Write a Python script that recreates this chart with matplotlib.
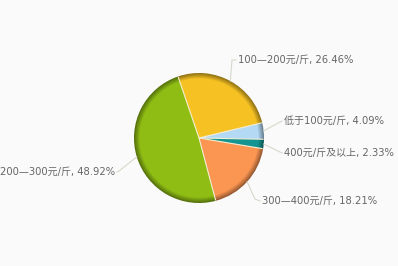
import matplotlib
matplotlib.use('Agg')
import matplotlib.pyplot as plt
import numpy as np
from matplotlib.colors import to_rgb

plt.rcParams['font.family'] = ['DejaVu Sans', 'Noto Sans CJK SC']

# slices in clockwise order, starting just above 3 o'clock
labels = ['低于100元/斤', '400元/斤及以上', '300—400元/斤', '200—300元/斤', '100—200元/斤']
shares = [4.09, 2.33, 18.21, 48.92, 26.46]
colors = ['#b3d9f5', '#159591', '#fb9552', '#8fbd14', '#f6c223']

W, H = 398, 266
cx, cy, R = 199, H - 138, 65
start = 13.6

# label layout (pixel coords, y down): elbow point, text anchor, alignment
layout = [((280, 122), (284, 121), 'left'),
          ((280, 152), (284, 153), 'left'),
          ((255, 199), (262, 201), 'left'),
          ((119, 171), (115, 172), 'right'),
          ((232, 60), (238, 60), 'left')]

fig = plt.figure(figsize=(W / 100, H / 100), dpi=100, facecolor='#fafafa')
ax = fig.add_axes([0, 0, 1, 1])
ax.set_facecolor('#fafafa')

# rim shading: stacked pies fading from a darker tone to the base colour
steps = 7
for i in range(steps):
    t = i / (steps - 1)
    cols = [tuple(np.array(to_rgb(c)) * (0.6 + 0.4 * t)) for c in colors]
    ax.pie(shares, colors=cols, startangle=start, counterclock=False,
           center=(cx, cy), radius=R - i * 0.9,
           wedgeprops=dict(linewidth=0))

# light separators between slices
bounds = start - np.concatenate([[0], np.cumsum(shares)]) / 100 * 360
for a in bounds[:-1]:
    th = np.deg2rad(a)
    ax.plot([cx, cx + (R - 0.5) * np.cos(th)], [cy, cy + (R - 0.5) * np.sin(th)],
            color='#f3efd6', lw=0.8, solid_capstyle='butt')

# leader lines and labels
mids = (bounds[:-1] + bounds[1:]) / 2
for lab, v, m, (elb, txt, ha) in zip(labels, shares, mids, layout):
    th = np.deg2rad(m)
    p0 = (cx + R * np.cos(th), cy + R * np.sin(th))
    ex, ey = elb[0], H - elb[1]
    tx, ty = txt[0], H - txt[1]
    endx = tx - 2 if ha == 'left' else tx + 2
    ax.plot([p0[0], ex, endx], [p0[1], ey, ty], color='#d9d8cb', lw=0.8)
    ax.text(tx, ty, f'{lab}, {v:.2f}%', ha=ha, va='center',
            fontsize=7.2, color='#666666')

ax.set_xlim(0, W)
ax.set_ylim(0, H)
ax.set_aspect('equal')
ax.axis('off')

plt.savefig('out.png', dpi=100, facecolor='#fafafa')
